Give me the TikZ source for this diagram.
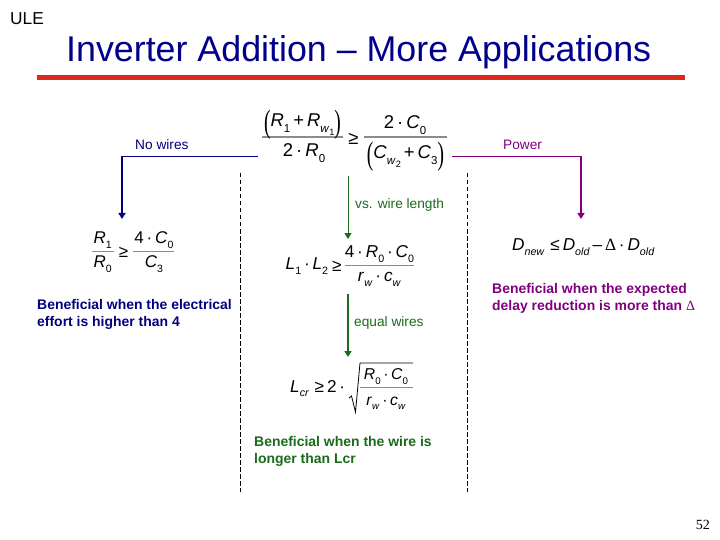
\documentclass[tikz,border=0pt]{standalone}
\usepackage{amsmath}
\usepackage{fontspec}
\setmainfont{Liberation Sans}
\newfontfamily\serifnum{Liberation Serif}
\usetikzlibrary{arrows.meta}
\definecolor{navyc}{HTML}{000080}
\definecolor{titlec}{HTML}{00008C}
\definecolor{greenc}{HTML}{1A6B1A}
\definecolor{purplec}{HTML}{800080}
\definecolor{redc}{HTML}{DC2A1A}
\definecolor{fracc}{HTML}{8C8C8C}
\newcommand{\ii}[1]{\textit{#1}}
\newcommand{\lowsub}[2][0.62]{\raisebox{-0.28em}{\scalebox{#1}{#2}}}
\newcommand{\fr}[3][0.8pt]{\textcolor{fracc}{$\genfrac{}{}{#1}{0}{\hbox{\color{black}#2}}{\hbox{\color{black}#3}}$}}
\newcommand{\paren}[1]{\raisebox{-0.28em}{\scalebox{1.05}[1.75]{\serifnum #1}}}
\newcommand{\gesym}{\kern4pt\raisebox{-0.1em}{≥}\kern4pt}
\newcommand{\nudge}[2]{\raisebox{#1}[0pt][0pt]{#2}}
\tikzset{
  eq/.style={inner sep=0pt,font=\fontsize{18.5}{22}\selectfont},
  lefteq/.style={inner sep=0pt,font=\fontsize{17}{20}\selectfont},
  smalleq/.style={inner sep=0pt,font=\fontsize{17.2}{20}\selectfont},
  sqeq/.style={inner sep=0pt,font=\fontsize{15.7}{18}\selectfont},
  lab/.style={inner sep=0pt,anchor=base west,font=\fontsize{13.7}{15}\selectfont},
  boldlab/.style={inner sep=0pt,anchor=base west,align=left,font=\fontsize{13.95}{17}\selectfont\bfseries},
  conn/.style={line width=0.9pt},
  arrowc/.style={line width=1.8pt,-{Triangle[length=6pt,width=7pt]}},
  divider/.style={line width=0.8pt,dash pattern=on 4.5pt off 2.5pt},
}
\begin{document}
\begin{tikzpicture}[x=1pt,y=-1pt]
\useasboundingbox (0,0) rectangle (720,540);
\fill[white] (0,0) rectangle (720,540);
% header
\node[inner sep=0pt,anchor=base west,font=\fontsize{17.3}{20}\selectfont] (ule) at (10,25) {ULE};
\node[inner sep=0pt,anchor=base west,titlec,font=\fontsize{35.8}{42}\selectfont] (title) at (66,62) {Inverter Addition – More Applications};
\coordinate (ruleL) at (37,77.3);
\coordinate (ruleR) at (685,77.3);
\draw[redc,line width=4.5pt] (ruleL) -- (ruleR);
% main equation
\node[eq,minimum width=194pt,minimum height=40pt] (main) at (355,156) {};
\coordinate (mainRuleL) at (262,137); \coordinate (mainRuleLb) at (343,137);
\coordinate (mainRuleR) at (364,137); \coordinate (mainRuleRb) at (447,137);
\draw[fracc,line width=1.5pt] (mainRuleL) -- (mainRuleLb);
\draw[fracc,line width=1.5pt] (mainRuleR) -- (mainRuleRb);
\node[eq,anchor=base] (mainNumL) at (302.5,127) {\paren{(}\ii{R}\lowsub{1}\kern3pt+\kern3pt\ii{R}\lowsub{\ii{w}\lowsub[0.8]{1}}\paren{)}};
\node[eq,anchor=base] (mainDenL) at (304,157) {2\,·\,\ii{R}\lowsub{0}};
\node[eq,anchor=base] (mainGe) at (353.5,145) {≥};
\node[eq,anchor=base] (mainNumR) at (405,129) {2\,·\,\ii{C}\lowsub{0}};
\node[eq,anchor=base] (mainDenR) at (405.5,159) {\paren{(}\ii{C}\lowsub{\ii{w}\lowsub[0.8]{2}}\kern3pt+\kern3pt\ii{C}\lowsub{3}\paren{)}};
% dividers
\coordinate (d1a) at (240.5,173); \coordinate (d1b) at (240.5,492);
\coordinate (d2a) at (467.5,173); \coordinate (d2b) at (467.5,492);
\draw[divider] (d1a) -- (d1b);
\draw[divider] (d2a) -- (d2b);
% labels
\node[lab,navyc] (nowires) at (135,150) {No wires};
\node[lab,purplec] (power) at (503,150) {Power};
\node[lab,greenc] (vs) at (355,208) {vs. wire length};
\node[lab,greenc] (equal) at (354,326) {equal wires};
% left branch
\coordinate (tipL) at (122,219);
\draw[conn,navyc] (main.west) -- (122,156) coordinate (cornerL);
\draw[arrowc,navyc] (cornerL) -- (tipL);
\node[lefteq] (leftEq) at (133,252) {\fr{\kern2pt\ii{R}\lowsub{1}\kern2pt}{\ii{R}\lowsub{0}}\gesym\fr{\kern1pt4\,·\,\ii{C}\lowsub{0}\kern1pt}{\ii{C}\lowsub{3}}};
\node[boldlab,navyc,anchor=north west] (leftText) at (37,299) {Beneficial when the electrical\\effort is higher than 4};
% right branch
\coordinate (tipR) at (581,219);
\draw[conn,purplec] (main.east) -- (581,156) coordinate (cornerR);
\draw[arrowc,purplec] (cornerR) -- (tipR);
\node[smalleq,anchor=base west] (rightEq) at (512,251) {\ii{D}\lowsub{\ii{new}}\,\,≤\,\ii{D}\lowsub{\ii{old}}\,–\,{\serifnum Δ}\,·\,\ii{D}\lowsub{\ii{old}}};
\node[boldlab,purplec,anchor=north west] (rightText) at (492,283) {Beneficial when the expected\\delay reduction is more than {\serifnum\mdseries Δ}};
% middle branch
\coordinate (midTop) at (348,176);
\coordinate (midTip) at (348,239);
\draw[line width=1pt,greenc,-{Triangle[length=6pt,width=7pt]}] (midTop) -- (midTip);
\node[smalleq] (midEq) at (350.5,266) {\ii{L}\lowsub{1}\,·\,\ii{L}\lowsub{2}\gesym\kern-2pt\fr{4\,·\,\ii{R}\lowsub{0}\,·\,\ii{C}\lowsub{0}}{\ii{r}\lowsub{\ii{w}}\,·\,\ii{c}\lowsub{\ii{w}}}};
\coordinate (midTop2) at (348,294);
\coordinate (midTip2) at (348,357);
\draw[arrowc,greenc] (midTop2) -- (midTip2);
\node[smalleq,anchor=base west] (lcrA) at (290,392) {\ii{L}\lowsub{\ii{cr}}\,\,≥\,2\,·};
\coordinate (sq0) at (349,398);
\coordinate (sq1) at (351.5,396);
\coordinate (sq2) at (355.5,412);
\coordinate (sq3) at (360,363);
\coordinate (sq4) at (413,363);
\draw[line width=0.8pt] (sq0) -- (sq1) -- (sq2) -- (sq3) -- (sq4);
\node[sqeq] (lcrN) at (386,376.5) {\ii{R}\lowsub{0}\,·\,\ii{C}\lowsub{0}};
\coordinate (lcrL) at (360,387); \coordinate (lcrR) at (413,387);
\draw[fracc,line width=0.8pt] (lcrL) -- (lcrR);
\node[sqeq] (lcrD) at (386,403) {\ii{r}\lowsub{\ii{w}}\,·\,\ii{c}\lowsub{\ii{w}}};
\node[boldlab,greenc,anchor=north west] (midText) at (254,436) {Beneficial when the wire is\\longer than Lcr};
% page number
\node[inner sep=0pt,anchor=base east,font=\serifnum\fontsize{14}{16}\selectfont] (page) at (710,529) {52};
\end{tikzpicture}
\end{document}
